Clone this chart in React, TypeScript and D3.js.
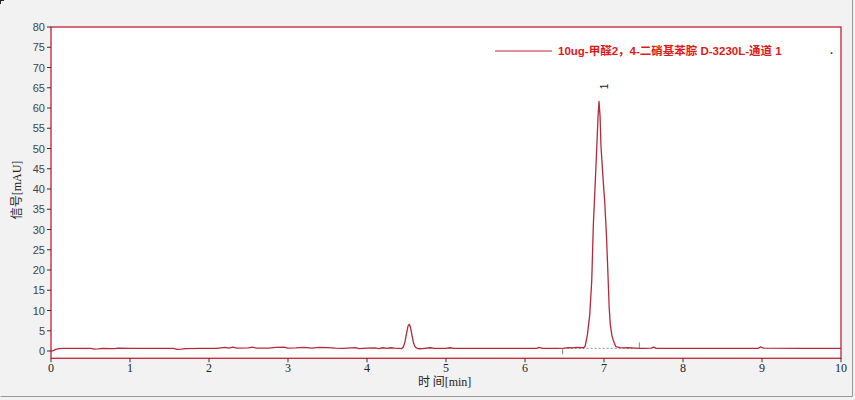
import React from "react";
import * as d3 from "d3";

const W = 855;
const H = 400;

// retention time (min) and signal (mAU)
const times = [
  0, 0.03, 0.06, 0.1, 0.15, 0.3, 0.5, 0.55, 0.6, 0.65, 0.8, 0.85, 1.0, 1.2, 1.4, 1.55, 1.6, 1.65, 1.7, 1.9,
  2.1, 2.2, 2.25, 2.3, 2.35, 2.5, 2.55, 2.6, 2.75, 2.85, 2.95, 3.0, 3.1, 3.2, 3.3, 3.4, 3.5, 3.6, 3.7, 3.85,
  3.9, 4.0, 4.1, 4.15, 4.2, 4.25, 4.3, 4.35, 4.4, 4.44, 4.46, 4.48, 4.5, 4.52, 4.535, 4.55, 4.57, 4.59, 4.61, 4.63,
  4.66, 4.7, 4.8, 4.85, 5.0, 5.05, 5.1, 5.5, 6.0, 6.15, 6.18, 6.22, 6.4, 6.5, 6.55, 6.6, 6.65, 6.7, 6.74, 6.76,
  6.79, 6.82, 6.845, 6.865, 6.89, 6.91, 6.925, 6.937, 6.95, 6.962, 6.99, 7.01, 7.03, 7.05, 7.065, 7.08, 7.1, 7.125, 7.15, 7.2,
  7.25, 7.3, 7.4, 7.45, 7.5, 7.6, 7.63, 7.66, 8.0, 8.5, 8.95, 8.98, 9.02, 9.5, 10,
];
const signal = [
  0.0, 0.1, 0.4, 0.6, 0.65, 0.65, 0.65, 0.45, 0.5, 0.65, 0.6, 0.7, 0.65, 0.65, 0.65, 0.65, 0.4, 0.45, 0.6, 0.65,
  0.65, 0.9, 0.7, 0.95, 0.7, 0.75, 0.95, 0.7, 0.7, 0.9, 0.95, 0.7, 0.75, 0.9, 0.7, 0.9, 0.85, 0.7, 0.65, 0.85,
  0.6, 0.7, 0.75, 0.6, 0.8, 0.65, 0.8, 0.7, 0.65, 0.6, 1.0, 2.2, 4.3, 6.2, 6.6, 5.9, 3.8, 1.9, 1.0, 0.7,
  0.55, 0.6, 0.8, 0.65, 0.65, 0.8, 0.65, 0.65, 0.65, 0.65, 0.9, 0.65, 0.65, 0.7, 0.85, 0.75, 0.9, 0.85, 0.8, 1.1,
  4.0, 9.0, 17.5, 31.0, 42.0, 51.0, 58.0, 61.6, 58.0, 50.5, 42.0, 36.5, 29.0, 19.0, 11.0, 6.5, 3.8, 2.2, 1.1, 0.85,
  0.75, 0.8, 0.7, 0.65, 0.65, 0.7, 0.95, 0.65, 0.65, 0.65, 0.65, 1.0, 0.7, 0.65, 0.65,
];

const yTicks = [0, 5, 10, 15, 20, 25, 30, 35, 40, 45, 50, 55, 60, 65, 70, 75, 80];
const xTicks = [0, 1, 2, 3, 4, 5, 6, 7, 8, 9, 10];

const legendText = "10ug-甲醛2，4-二硝基苯腙 D-3230L-通道 1";
const peakLabel = "1";
const peakTime = 6.937;
const peakHeight = 61.6;
const baselineStart = 6.477;
const baselineEnd = 7.447;
const baselineLevel = 0.65;

const AXIS = "#c32136";
const TRACE = "#b42a3a";

export default function App() {
  const x = d3.scaleLinear().domain([0, 10]).range([51, 841]);
  const y = d3.scaleLinear().domain([0, 80]).range([351, 27]);
  const boxBottom = y(-1.8);

  const data = times.map((t, i) => [t, signal[i]] as [number, number]);
  const line = d3
    .line<[number, number]>()
    .x((d) => x(d[0]))
    .y((d) => y(d[1]));

  return (
    <svg
      width={W}
      height={H}
      style={{ position: "absolute", left: 0, top: 0, display: "block" }}
    >
      <rect x={0} y={0} width={W} height={H} fill="#f2f2f2" />
      <path d={`M0.5,${H - 3.5} L${W - 2.5},${H - 3.5} L${W - 2.5},0`} fill="none" stroke="#9a9a9a" strokeWidth={1} />
      <path d={`M0,4 L0,0 L4,0`} fill="none" stroke="#222" strokeWidth={2} />
      <rect x={x(0)} y={y(80)} width={x(10) - x(0)} height={boxBottom - y(80)} fill="#ffffff" />

      {/* dashed baseline */}
      <line
        x1={x(baselineStart)}
        x2={x(baselineEnd)}
        y1={y(baselineLevel)}
        y2={y(baselineLevel)}
        stroke="#777"
        strokeWidth={0.8}
        strokeDasharray="2,2"
      />
      <line x1={x(baselineStart)} x2={x(baselineStart)} y1={y(baselineLevel)} y2={y(baselineLevel) + 6} stroke="#666" strokeWidth={0.8} />
      <line x1={x(baselineEnd)} x2={x(baselineEnd)} y1={y(baselineLevel)} y2={y(baselineLevel) - 6} stroke="#666" strokeWidth={0.8} />

      <path d={line(data) || ""} fill="none" stroke={TRACE} strokeWidth={1.3} strokeLinejoin="round" />

      {/* box */}
      <rect
        x={x(0)}
        y={y(80)}
        width={x(10) - x(0)}
        height={boxBottom - y(80)}
        fill="none"
        stroke={AXIS}
        strokeWidth={1.3}
      />

      {/* y axis */}
      {yTicks.map((v) => (
        <g key={"y" + v}>
          <line x1={x(0) - 4} x2={x(0)} y1={y(v)} y2={y(v)} stroke="#333" strokeWidth={1} />
          <text
            x={x(0) - 6}
            y={y(v)}
            textAnchor="end"
            dominantBaseline="central"
            fontFamily="'Liberation Sans', Arial, sans-serif"
            fontSize={11}
            fill="#444"
          >
            {v}
          </text>
        </g>
      ))}

      {/* x axis */}
      {xTicks.map((v) => (
        <g key={"x" + v}>
          <line x1={x(v)} x2={x(v)} y1={boxBottom} y2={boxBottom + 4} stroke="#333" strokeWidth={1} />
          <text
            x={x(v)}
            y={boxBottom + 14}
            textAnchor="middle"
            fontFamily="'Liberation Serif', 'Times New Roman', serif"
            fontSize={12}
            fill="#222"
          >
            {v}
          </text>
        </g>
      ))}

      {/* axis titles */}
      <text
        x={418}
        y={386}
        fontSize={12}
        fill="#222"
        fontFamily="'Noto Sans CJK SC', sans-serif"
      >
        时 间<tspan fontFamily="'Liberation Serif', serif">[min]</tspan>
      </text>
      <text
        transform={`translate(21,190) rotate(-90)`}
        textAnchor="middle"
        fontSize={12}
        fill="#222"
        fontFamily="'Noto Sans CJK SC', sans-serif"
      >
        信号<tspan fontFamily="'Liberation Serif', serif">[mAU]</tspan>
      </text>

      {/* legend */}
      <line x1={495} x2={552} y1={51} y2={51} stroke={AXIS} strokeWidth={1.2} />
      <text
        x={558}
        y={55}
        fontSize={11.5}
        fontWeight="bold"
        fill="#e01818"
        fontFamily="'Liberation Sans', 'Noto Sans CJK SC', sans-serif"
      >
        {legendText}
      </text>
      <text x={830} y={54} fontSize={11} fill="#333" fontWeight="bold" fontFamily="'Liberation Sans', sans-serif">.</text>

      {/* peak label */}
      <text
        transform={`translate(${x(peakTime) + 9},${y(peakHeight) - 15}) rotate(-90)`}
        textAnchor="middle"
        fontSize={10}
        fill="#222"
        fontFamily="'Liberation Sans', sans-serif"
      >
        {peakLabel}
      </text>
    </svg>
  );
}
